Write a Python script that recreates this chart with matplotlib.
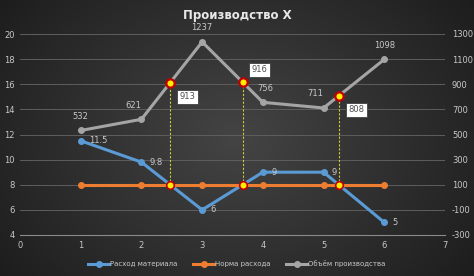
import numpy as np
import matplotlib.pyplot as plt
from matplotlib.colors import LinearSegmentedColormap

x = [1, 2, 3, 4, 5, 6]
rashod = [11.5, 9.8, 6, 9, 9, 5]
norma = [8, 8, 8, 8, 8, 8]
obem = [532, 621, 1237, 756, 711, 1098]

cross_x = [2.47, 3.67, 5.25]
cross_obem = [913, 916, 808]

left_ticks = [4, 6, 8, 10, 12, 14, 16, 18, 20]
right_ticks = [-300, -100, 100, 300, 500, 700, 900, 1100, 1300]

blue = '#5B9BD5'
orange = '#ED7D31'
gray = '#A5A5A5'
txt = '#C8C8C8'

plt.rcParams['axes.unicode_minus'] = False

fig = plt.figure(figsize=(4.74, 2.76), dpi=100)

# radial gradient background
bg = fig.add_axes([0, 0, 1, 1])
yy, xx = np.mgrid[-1:1:276j, -1:1:474j]
r = np.sqrt(xx ** 2 + (yy * 0.75) ** 2)
cmap = LinearSegmentedColormap.from_list('bg', ['#444444', '#1a1a1a'])
bg.imshow(r, cmap=cmap, vmin=0, vmax=1.35, aspect='auto', extent=[0, 1, 0, 1])
bg.axis('off')

ax = fig.add_axes([20 / 474, 41 / 276, 425 / 474, 201 / 276])
ax.patch.set_alpha(0)
ax.set_xlim(0, 7)
ax.set_ylim(4, 20)
ax.set_yticks(left_ticks)
ax.set_xticks(range(8))
ax.grid(axis='y', color='#5e5e5e', linewidth=0.7)
ax.set_axisbelow(True)
for s in ['top', 'right', 'left']:
    ax.spines[s].set_visible(False)
ax.spines['bottom'].set_color('#8a8a8a')
ax.tick_params(colors=txt, labelsize=6, length=0, pad=4)
ax.tick_params(axis='y', pad=4)

ax2 = ax.twinx()
ax2.set_ylim(-300, 1300)
ax2.set_yticks(right_ticks)
for s in ax2.spines.values():
    s.set_visible(False)
ax2.tick_params(colors=txt, labelsize=6, length=0, pad=5)

l1, = ax.plot(x, rashod, color=blue, lw=2.2, marker='o', ms=4, label='Расход материала', zorder=3)
l2, = ax.plot(x, norma, color=orange, lw=2.2, marker='o', ms=4, label='Норма расхода', zorder=3)
l3, = ax2.plot(x, obem, color=gray, lw=2.2, marker='o', ms=4, label='Объём производства', zorder=3)

for xi, v in zip(x, rashod):
    ax.annotate(f'{v:g}', (xi, v), xytext=(6, 0), textcoords='offset points',
                color=txt, fontsize=6, va='center')
obem_off = [(0, 7), (-6, 7), (0, 7), (2, 7), (-6, 7), (0, 7)]
for xi, v, off in zip(x, obem, obem_off):
    ax2.annotate(f'{v}', (xi, v), xytext=off, textcoords='offset points',
                 color=txt, fontsize=6, ha='center', va='bottom')

# crossing points
box_off = [(7, -10), (6, 9), (7, -10)]
for cx, cv, off in zip(cross_x, cross_obem, box_off):
    cy = 4 + (cv + 300) / 100
    ax.plot([cx, cx], [8, cy], color='#cccc3a', lw=0.8, ls=(0, (2, 1.5)), zorder=2)
    ax.plot(cx, 8, 'o', ms=5.5, mfc='#ffee00', mec='#c00000', mew=1.2, zorder=5)
    ax2.plot(cx, cv, 'o', ms=6, mfc='#ffee00', mec='#c00000', mew=1.6, zorder=5)
    ax2.annotate(f'{cv}', (cx, cv), xytext=off, textcoords='offset points',
                 color='#505050', fontsize=6, ha='left', va='center',
                 bbox=dict(boxstyle='square,pad=0.3', fc='white', ec='#404040', lw=0.6),
                 zorder=6)

fig.text(0.5, 0.945, 'Производство Х', color='#E8E8E8', fontsize=8.5, fontweight='bold',
         ha='center', va='center')

fig.legend(handles=[l1, l2, l3], loc='center', bbox_to_anchor=(0.5, 0.045), ncol=3,
           frameon=False, fontsize=5, labelcolor=txt, handlelength=3, columnspacing=2.2,
           handletextpad=0.2)

fig.savefig('out.png', dpi=100)
